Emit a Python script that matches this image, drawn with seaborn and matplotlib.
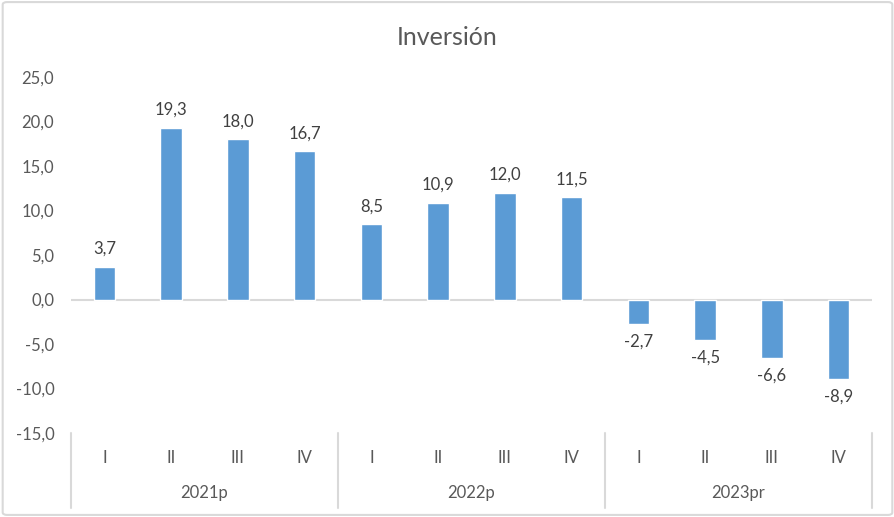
import matplotlib.pyplot as plt
import numpy as np
import pandas as pd
import seaborn as sns
from matplotlib.patches import FancyBboxPatch

years = ["2021p", "2022p", "2023pr"]
quarters = ["I", "II", "III", "IV"]
values = [3.7, 19.3, 18.0, 16.7,
          8.5, 10.9, 12.0, 11.5,
          -2.7, -4.5, -6.6, -8.9]

keys = [f"{y}-{q}" for y in years for q in quarters]
df = pd.DataFrame({"key": keys, "valor": values})

sns.set_style("white")
plt.rcParams["font.family"] = ["Lato", "DejaVu Sans"]
txt = "#595959"
grid = "#D9D9D9"

fig = plt.figure(figsize=(8.95, 5.17), dpi=100)
ax = fig.add_axes([0.0793, 0.1625, 0.8950, 0.6885])

sns.barplot(data=df, x="key", y="valor", order=keys, color="#5B9BD5",
            width=0.32, saturation=1, ax=ax)

ax.set_ylim(-15, 25)
ax.set_xlim(-0.5, len(keys) - 0.5)
ax.set_yticks(np.arange(-15, 26, 5))
ax.set_yticklabels([f"{v:.1f}".replace(".", ",") for v in np.arange(-15, 26, 5)],
                   color=txt, fontsize=12)
ax.tick_params(axis="y", length=0, pad=12)
ax.set_xticks([])
ax.set_xlabel("")
ax.set_ylabel("")
for s in ax.spines.values():
    s.set_visible(False)
ax.axhline(0, color=grid, lw=1.5, zorder=0)

# data labels
for i, v in enumerate(values):
    lab = f"{v:.1f}".replace(".", ",")
    if v >= 0:
        ax.annotate(lab, (i, v), xytext=(0, 7), textcoords="offset points",
                    ha="center", va="bottom", color="#404040", fontsize=12)
    else:
        ax.annotate(lab, (i, v), xytext=(0, -7), textcoords="offset points",
                    ha="center", va="top", color="#404040", fontsize=12)

# multi-level category axis
trans = ax.get_xaxis_transform()
for i, k in enumerate(keys):
    q = k.split("-")[1]
    ax.text(i, -0.07, q, transform=trans, ha="center", va="center",
            color=txt, fontsize=12, clip_on=False)
for j, y in enumerate(years):
    ax.text(j * 4 + 1.5, -0.17, y, transform=trans, ha="center", va="center",
            color=txt, fontsize=12, clip_on=False)
for b in range(len(years) + 1):
    ax.plot([b * 4 - 0.5, b * 4 - 0.5], [0, -0.21], transform=trans,
            color=grid, lw=1.5, clip_on=False)

fig.text(0.5, 0.928, "Inversión", ha="center", va="center",
         color=txt, fontsize=18)

frame = FancyBboxPatch((0.003, 0.004), 0.994, 0.992, boxstyle="round,pad=0,rounding_size=0.005",
                       transform=fig.transFigure, fill=False, edgecolor=grid, lw=1.5)
fig.patches.append(frame)

fig.savefig("out.png", dpi=100)
